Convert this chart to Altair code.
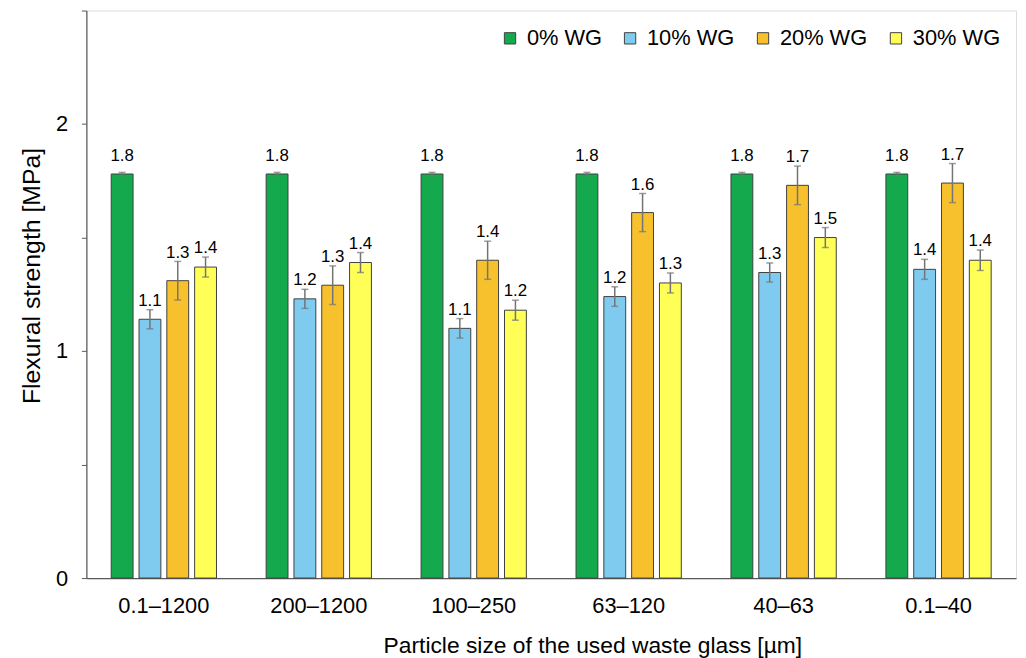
import altair as alt
import pandas as pd

categories = ["0.1–1200", "200–1200", "100–250", "63–120", "40–63", "0.1–40"]
series = ["0% WG", "10% WG", "20% WG", "30% WG"]

v0 = [1.78, 1.78, 1.78, 1.78, 1.78, 1.78]
v10 = [1.14, 1.23, 1.10, 1.24, 1.346, 1.36]
v20 = [1.31, 1.29, 1.40, 1.61, 1.73, 1.74]
v30 = [1.37, 1.39, 1.18, 1.30, 1.50, 1.40]

e0 = [0.007, 0.007, 0.007, 0.007, 0.007, 0.007]
e10 = [0.042, 0.042, 0.043, 0.043, 0.042, 0.044]
e20 = [0.085, 0.085, 0.084, 0.084, 0.085, 0.086]
e30 = [0.044, 0.044, 0.044, 0.044, 0.044, 0.045]

colors = ["#14a94c", "#7fcbef", "#f7c12e", "#ffff58"]

rows = []
for s, vals, errs in zip(series, [v0, v10, v20, v30], [e0, e10, e20, e30]):
    for c, v, e in zip(categories, vals, errs):
        rows.append({"cat": c, "series": s, "value": v, "err": e})
df = pd.DataFrame(rows)

FONT = "Liberation Sans"

base = alt.Chart(df).transform_calculate(
    lo="datum.value - datum.err",
    hi="datum.value + datum.err",
    ly="max(datum.value + datum.err + 0.017, datum.value + 0.057)",
).encode(
    x=alt.X("cat:N", sort=categories, scale=alt.Scale(paddingInner=0, paddingOuter=0),
            axis=alt.Axis(title="Particle size of the used waste glass [µm]", labelAngle=0,
                          ticks=False, labelPadding=18, titlePadding=18,
                          titleX=510, titleAlign="center",
                          labelFontSize=22, titleFontSize=23, labelColor="#000000",
                          titleColor="#000000", titleFontWeight="normal",
                          domainColor="#595959", domainWidth=1.2, labelFont=FONT, titleFont=FONT)),
    xOffset=alt.XOffset("series:N", sort=series,
                        scale=alt.Scale(paddingInner=0.214, paddingOuter=0.893)),
)

yscale = alt.Scale(domain=[0, 2.5], nice=False)

bars = base.mark_bar(stroke="#404040", strokeWidth=1).encode(
    y=alt.Y("value:Q", scale=yscale,
            axis=alt.Axis(title="Flexural strength [MPa]", values=[0, 0.5, 1, 1.5, 2, 2.5],
                          format=".0f",
                          labelExpr="datum.value % 1 == 0 && datum.value < 2.5 ? datum.label : ''",
                          grid=False, tickSize=5, tickColor="#595959", domainColor="#595959",
                          domainWidth=1.2, labelPadding=14, titlePadding=11,
                          titleY=267, titleAlign="center",
                          labelFontSize=22, titleFontSize=25, labelColor="#000000",
                          titleColor="#000000", titleFontWeight="normal",
                          labelFont=FONT, titleFont=FONT)),
    color=alt.Color("series:N", sort=series,
                    scale=alt.Scale(domain=series, range=colors),
                    legend=alt.Legend(title=None, orient="none", legendX=416, legendY=17,
                                      direction="horizontal", columns=4, columnPadding=17,
                                      symbolType="square", symbolSize=130,
                                      symbolStrokeColor="#404040", symbolStrokeWidth=1,
                                      labelFontSize=22, labelFont=FONT, labelColor="#000000",
                                      labelOffset=6)),
)

rules = base.mark_rule(color="#737373", strokeWidth=1.5).encode(
    y=alt.Y("lo:Q", scale=yscale), y2="hi:Q")
cap_lo = base.mark_tick(color="#737373", thickness=1.5, size=7).encode(
    y=alt.Y("lo:Q", scale=yscale))
cap_hi = base.mark_tick(color="#737373", thickness=1.5, size=7).encode(
    y=alt.Y("hi:Q", scale=yscale))

labels = base.mark_text(fontSize=17, font=FONT, color="#000000", baseline="alphabetic").encode(
    y=alt.Y("ly:Q", scale=yscale),
    text=alt.Text("value:Q", format=".1f"),
)

chart = alt.layer(bars, rules, cap_lo, cap_hi, labels).properties(
    width=937, height=572,
    autosize=alt.AutoSizeParams(type="none"),
    padding={"left": 79, "top": 0, "right": 2, "bottom": 78},
).configure_view(stroke=None).configure(font=FONT)

chart.save("out.html", embed_options={"renderer": "svg", "actions": False})
